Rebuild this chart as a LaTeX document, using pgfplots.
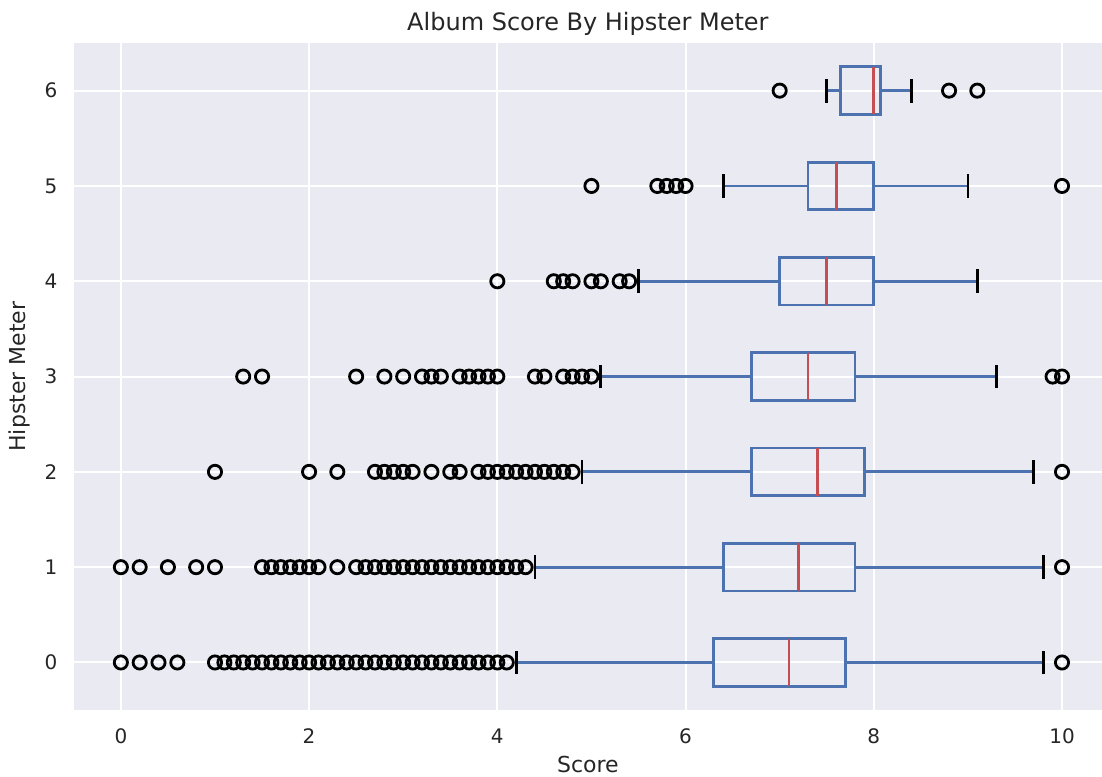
\documentclass[border=0pt]{standalone}
\usepackage{pgfplots}
\pgfplotsset{compat=1.18}
\usepgfplotslibrary{statistics}
\usepackage{fontspec}
\setmainfont{DejaVu Sans}
\definecolor{bgc}{HTML}{EAEAF2}
\definecolor{bxblue}{HTML}{4C72B0}
\definecolor{medred}{HTML}{C44E52}
\definecolor{txt}{HTML}{262626}
\pgfplotsset{
  mybox/.style={
    boxplot/box extend=0.5,
    boxplot/whisker extend=0.25,
    boxplot/every box/.style={draw=bxblue, line width=1.4pt, fill=none},
    boxplot/every median/.style={draw=medred, line width=1.4pt},
    boxplot/draw/lower whisker/.code={%
      \draw[bxblue, line width=1.4pt] (boxplot cs:\pgfplotsboxplotvalue{lower quartile}) -- (boxplot cs:\pgfplotsboxplotvalue{lower whisker});
      \draw[black, line width=1.4pt] (boxplot whisker cs:\pgfplotsboxplotvalue{lower whisker},0) -- (boxplot whisker cs:\pgfplotsboxplotvalue{lower whisker},1);
    },
    boxplot/draw/upper whisker/.code={%
      \draw[bxblue, line width=1.4pt] (boxplot cs:\pgfplotsboxplotvalue{upper quartile}) -- (boxplot cs:\pgfplotsboxplotvalue{upper whisker});
      \draw[black, line width=1.4pt] (boxplot whisker cs:\pgfplotsboxplotvalue{upper whisker},0) -- (boxplot whisker cs:\pgfplotsboxplotvalue{upper whisker},1);
    },
    draw=black, mark=o, mark size=3.3pt,
    mark options={draw=black, fill=none, line width=1.4pt, solid},
  }
}
\begin{document}
\begin{tikzpicture}
\begin{axis}[
  scale only axis, width=514pt, height=333.5pt,
  xmin=-0.5, xmax=10.425, ymin=-0.5, ymax=6.5,
  mark size=3.3pt,
  axis background/.style={fill=bgc},
  axis line style={draw=none},
  major tick length=0pt,
  xtick={0,2,4,6,8,10}, ytick={0,1,2,3,4,5,6},
  grid=major, major grid style={white, line width=1pt},
  ticklabel style={font=\fontsize{10}{12}\selectfont, text=txt},
  /pgf/number format/assume math mode=true,
  xticklabel style={anchor=north, inner sep=0pt, yshift=-9pt},
  yticklabel style={anchor=east, inner sep=0pt, xshift=-8pt},
  title={Album Score By Hipster Meter},
  title style={font=\fontsize{12}{14}\selectfont, text=txt, anchor=base, at={([yshift=0.2pt]axis description cs:0.5,1)}},
  xlabel={Score},
  xlabel style={font=\fontsize{11}{13}\selectfont, text=txt, anchor=base, at={([yshift=-31pt]axis description cs:0.5,0)}},
  ylabel={Hipster Meter},
  ylabel style={font=\fontsize{11}{13}\selectfont, text=txt, anchor=base, at={([xshift=-24.2pt]axis description cs:0,0.5)}},
]
% row 0
\addplot[mybox, boxplot prepared={draw position=0, lower whisker=4.2, lower quartile=6.3, median=7.1, upper quartile=7.7, upper whisker=9.8}]
table[row sep=\\, y index=0] {data\\ 0\\ 0.2\\ 0.4\\ 0.6\\ 1.0\\ 1.1\\ 1.2\\ 1.3\\ 1.4\\ 1.5\\ 1.6\\ 1.7\\ 1.8\\ 1.9\\ 2.0\\ 2.1\\ 2.2\\ 2.3\\ 2.4\\ 2.5\\ 2.6\\ 2.7\\ 2.8\\ 2.9\\ 3.0\\ 3.1\\ 3.2\\ 3.3\\ 3.4\\ 3.5\\ 3.6\\ 3.7\\ 3.8\\ 3.9\\ 4.0\\ 4.1\\ 10.0\\};
% row 1
\addplot[mybox, boxplot prepared={draw position=1, lower whisker=4.4, lower quartile=6.4, median=7.2, upper quartile=7.8, upper whisker=9.8}]
table[row sep=\\, y index=0] {data\\ 0\\ 0.2\\ 0.5\\ 0.8\\ 1.0\\ 1.5\\ 1.6\\ 1.7\\ 1.8\\ 1.9\\ 2.0\\ 2.1\\ 2.3\\ 2.5\\ 2.6\\ 2.7\\ 2.8\\ 2.9\\ 3.0\\ 3.1\\ 3.2\\ 3.3\\ 3.4\\ 3.5\\ 3.6\\ 3.7\\ 3.8\\ 3.9\\ 4.0\\ 4.1\\ 4.2\\ 4.3\\ 10.0\\};
% row 2
\addplot[mybox, boxplot prepared={draw position=2, lower whisker=4.9, lower quartile=6.7, median=7.4, upper quartile=7.9, upper whisker=9.7}]
table[row sep=\\, y index=0] {data\\ 1.0\\ 2.0\\ 2.3\\ 2.7\\ 2.8\\ 2.9\\ 3.0\\ 3.1\\ 3.3\\ 3.5\\ 3.6\\ 3.8\\ 3.9\\ 4.0\\ 4.1\\ 4.2\\ 4.3\\ 4.4\\ 4.5\\ 4.6\\ 4.7\\ 4.8\\ 10.0\\};
% row 3
\addplot[mybox, boxplot prepared={draw position=3, lower whisker=5.1, lower quartile=6.7, median=7.3, upper quartile=7.8, upper whisker=9.3}]
table[row sep=\\, y index=0] {data\\ 1.3\\ 1.5\\ 2.5\\ 2.8\\ 3.0\\ 3.2\\ 3.3\\ 3.4\\ 3.6\\ 3.7\\ 3.8\\ 3.9\\ 4.0\\ 4.4\\ 4.5\\ 4.7\\ 4.8\\ 4.9\\ 5.0\\ 9.9\\ 10.0\\};
% row 4
\addplot[mybox, boxplot prepared={draw position=4, lower whisker=5.5, lower quartile=7.0, median=7.5, upper quartile=8.0, upper whisker=9.1}]
table[row sep=\\, y index=0] {data\\ 4.0\\ 4.6\\ 4.7\\ 4.8\\ 5.0\\ 5.1\\ 5.3\\ 5.4\\};
% row 5
\addplot[mybox, boxplot prepared={draw position=5, lower whisker=6.4, lower quartile=7.3, median=7.6, upper quartile=8.0, upper whisker=9.0}]
table[row sep=\\, y index=0] {data\\ 5.0\\ 5.7\\ 5.8\\ 5.9\\ 6.0\\ 10.0\\};
% row 6
\addplot[mybox, boxplot prepared={draw position=6, lower whisker=7.5, lower quartile=7.65, median=8.0, upper quartile=8.07, upper whisker=8.4}]
table[row sep=\\, y index=0] {data\\ 7.0\\ 8.8\\ 9.1\\};
\end{axis}
\pgfresetboundingbox
\path[use as bounding box] ([xshift=-36.9pt,yshift=-33pt]current axis.south west) rectangle ([yshift=21.5pt]current axis.north east);
\end{tikzpicture}
\end{document}
